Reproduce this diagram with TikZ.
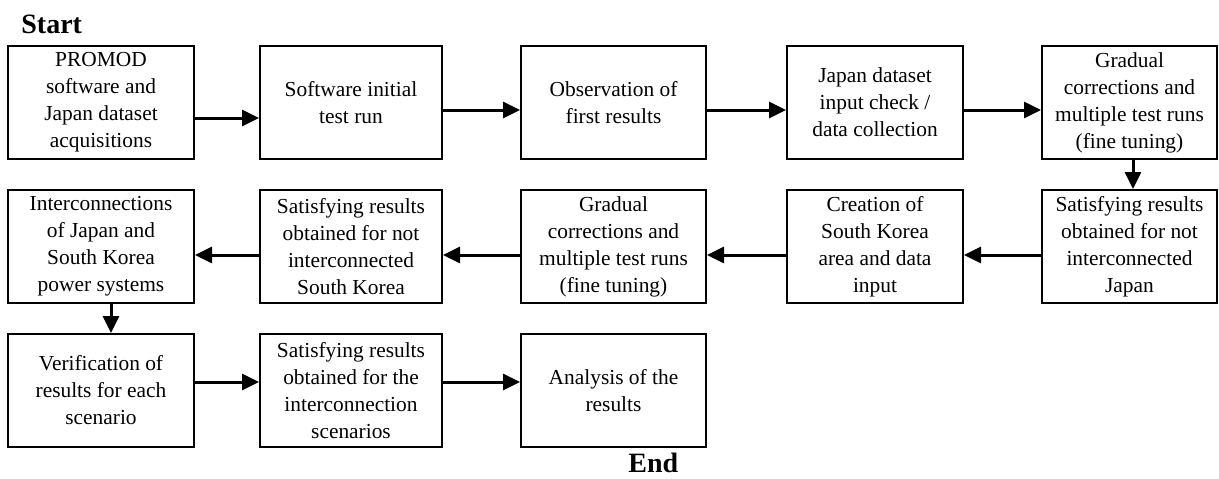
\documentclass[tikz,border=0pt]{standalone}
\usepackage{fontspec}
\setmainfont{Liberation Serif}
\usetikzlibrary{arrows.meta}
\begin{document}
\begin{tikzpicture}[x=0.5pt, y=-0.5pt,
  box/.style={draw, line width=1pt, align=center, inner sep=0pt, minimum height=56.5pt, font=\fontsize{10.7}{13.5}\selectfont},
  arr/.style={line width=1.5pt, -{Triangle[length=8.5pt, width=8pt]}},
  title/.style={anchor=base west, inner sep=0pt, font=\fontsize{14}{16}\selectfont\bfseries}]
\useasboundingbox (0,0) rectangle (1219,478);
\node[title] (start) at (21,33) {Start};
\node[box, minimum width=93pt] (p1) at (101,102.5) {PROMOD\\software and\\Japan dataset\\acquisitions};
\node[box, minimum width=91pt] (p2) at (351,102.5) {Software initial\\test run};
\node[box, minimum width=92.5pt] (p3) at (613.5,102.5) {Observation of\\first results};
\node[box, minimum width=88pt] (p4) at (875,102.5) {Japan dataset\\input check /\\data collection};
\node[box, minimum width=87.5pt] (p5) at (1129.5,102.5) {Gradual\\corrections and\\multiple test runs\\(fine tuning)};
\node[box, minimum width=87.5pt] (q5) at (1129.5,246.5) {Satisfying results\\obtained for not\\interconnected\\Japan};
\node[box, minimum width=88pt] (q4) at (875,246.5) {Creation of\\South Korea\\area and data\\input};
\node[box, minimum width=92.5pt] (q3) at (613.5,246.5) {Gradual\\corrections and\\multiple test runs\\(fine tuning)};
\node[box, minimum width=91pt] (q2) at (351,246.5) {Satisfying results\\obtained for not\\interconnected\\South Korea};
\node[box, minimum width=93pt] (q1) at (101,246.5) {Interconnections\\of Japan and\\South Korea\\power systems};
\node[box, minimum width=93pt] (r1) at (101,390.5) {Verification of\\results for each\\scenario};
\node[box, minimum width=91pt] (r2) at (351,390.5) {Satisfying results\\obtained for the\\interconnection\\scenarios};
\node[box, minimum width=92.5pt] (r3) at (613.5,390.5) {Analysis of the\\results};
\node[title] (end) at (628,472) {End};
\draw[arr] ([yshift=-7.75pt]p1.east) -- ([yshift=-7.75pt]p2.west);
\draw[arr] ([yshift=-3.75pt]p2.east) -- ([yshift=-3.75pt]p3.west);
\draw[arr] ([yshift=-3.75pt]p3.east) -- ([yshift=-3.75pt]p4.west);
\draw[arr] ([yshift=-3.75pt]p4.east) -- ([yshift=-3.75pt]p5.west);
\draw[arr] ([xshift=1.75pt]p5.south) -- ([xshift=1.75pt]q5.north);
\draw[arr] ([yshift=-4.25pt]q5.west) -- ([yshift=-4.25pt]q4.east);
\draw[arr] ([yshift=-4.25pt]q4.west) -- ([yshift=-4.25pt]q3.east);
\draw[arr] ([yshift=-4.25pt]q3.west) -- ([yshift=-4.25pt]q2.east);
\draw[arr] ([yshift=-4.25pt]q2.west) -- ([yshift=-4.25pt]q1.east);
\draw[arr] ([xshift=5pt]q1.south) -- ([xshift=5pt]r1.north);
\draw[arr] ([yshift=4.25pt]r1.east) -- ([yshift=4.25pt]r2.west);
\draw[arr] ([yshift=4.25pt]r2.east) -- ([yshift=4.25pt]r3.west);
\end{tikzpicture}
\end{document}
